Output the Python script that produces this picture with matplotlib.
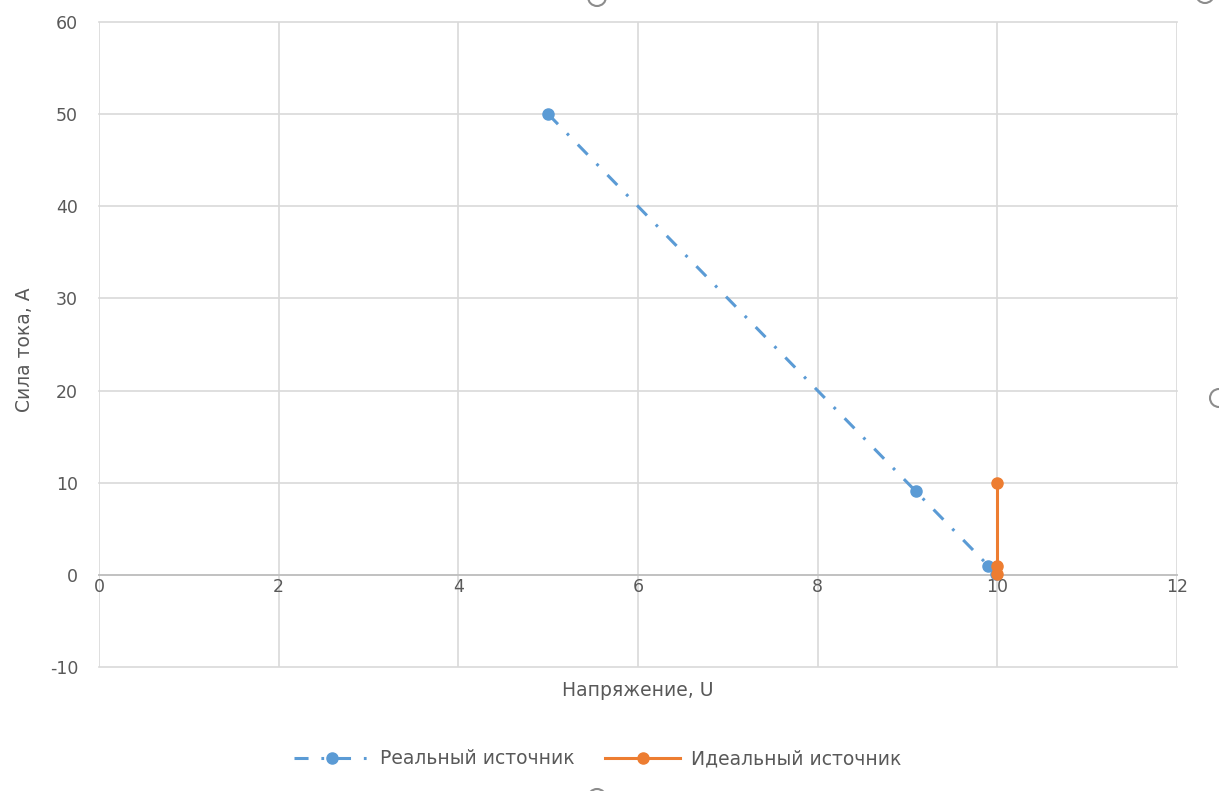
import matplotlib.pyplot as plt
from matplotlib.patches import Circle

# Data
real_u = [5, 9.09, 9.9, 9.99]
real_i = [50, 9.09, 0.99, 0.1]
ideal_u = [10, 10, 10]
ideal_i = [10, 1, 0.1]

x_ticks = [0, 2, 4, 6, 8, 10, 12]
y_ticks = [-10, 0, 10, 20, 30, 40, 50, 60]

blue = '#5b9bd5'
orange = '#ed7d31'
text_col = '#595959'

plt.rcParams['font.family'] = ['DejaVu Sans']
plt.rcParams['axes.unicode_minus'] = False

W, H = 1219, 791
fig = plt.figure(figsize=(W / 100, H / 100), dpi=100)
ax = fig.add_axes([99 / W, 1 - 667 / H, (1177 - 99) / W, (667 - 22) / H])

ax.set_xlim(0, 12)
ax.set_ylim(-10, 60)
ax.set_xticks(x_ticks)
ax.set_yticks(y_ticks)
ax.grid(True, color='#d9d9d9', lw=1.2)
ax.set_axisbelow(True)
for gl in ax.get_xgridlines() + ax.get_ygridlines():
    gl.set_clip_on(False)

for s in ['top', 'right', 'left']:
    ax.spines[s].set_visible(False)
ax.spines['bottom'].set_position(('data', 0))
ax.spines['bottom'].set_color('#bfbfbf')
ax.spines['bottom'].set_linewidth(1.3)

ax.tick_params(axis='x', length=0, pad=2, labelsize=12.5, labelcolor=text_col)
ax.tick_params(axis='y', length=0, pad=15, labelsize=12.5, labelcolor=text_col)

ax.plot(real_u, real_i, color=blue, lw=2.2, dashes=(4.6, 4.2, 0.9, 4.2),
        dash_capstyle='butt', marker='o', ms=8, label='Реальный источник',
        clip_on=False, zorder=3)
ax.plot(ideal_u, ideal_i, color=orange, lw=2.2,
        marker='o', ms=8, label='Идеальный источник', clip_on=False, zorder=4)

fig.text(638 / W, 1 - 691 / H, 'Напряжение, U', ha='center', va='center',
         fontsize=13.5, color=text_col)
fig.text(25 / W, 1 - 350 / H, 'Сила тока, А', ha='center', va='center',
         rotation=90, fontsize=13.5, color=text_col)

leg = fig.legend(loc='center', bbox_to_anchor=(598 / W, 1 - 759 / H), ncol=2,
                 frameon=False, fontsize=13.5, handlelength=4.0,
                 columnspacing=1.6, handletextpad=0.6)
for t in leg.get_texts():
    t.set_color(text_col)

# chart-area selection handles, partly cut off at the picture edges
for cx, cy in [(597, -3), (1205, -6), (1219, 398), (597, 798)]:
    fig.patches.append(Circle((cx, H - cy), 9, transform=None, fill=False,
                              ec='#8c8c8c', lw=1.5))

fig.savefig('out.png', dpi=100, facecolor='white')
